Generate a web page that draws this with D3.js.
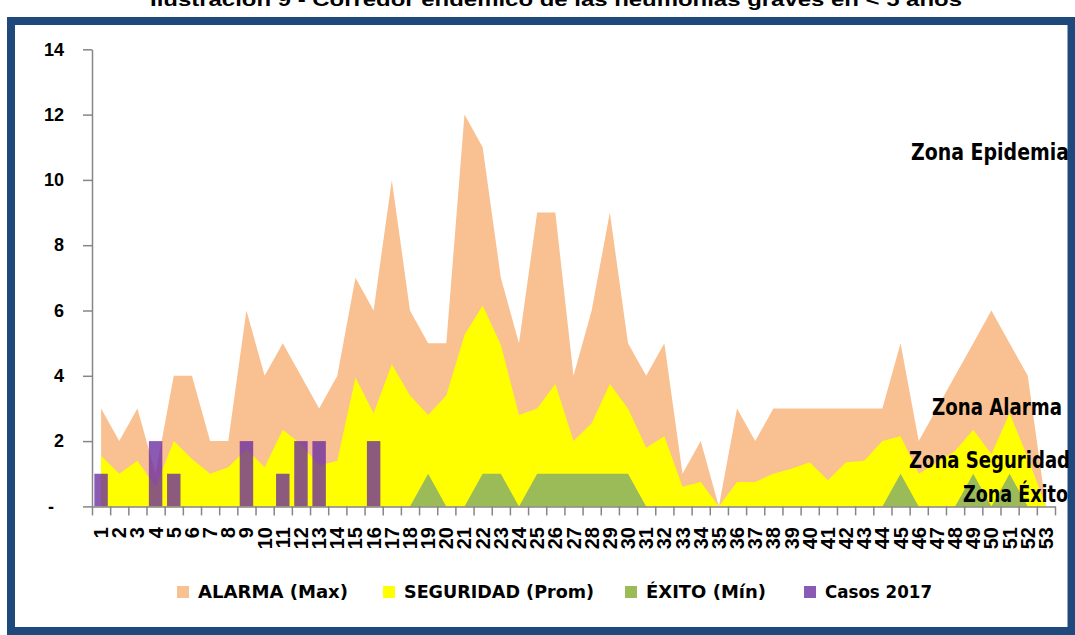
<!DOCTYPE html>
<html><head><meta charset="utf-8">
<script src="https://cdn.jsdelivr.net/npm/d3@7"></script>
<style>body{margin:0;background:#fff}svg{display:block}</style>
</head><body><svg id="c" width="1075" height="635"></svg>
<script>
const weeks = ["1","2","3","4","5","6","7","8","9","10","11","12","13","14","15","16","17","18","19","20",
  "21","22","23","24","25","26","27","28","29","30","31","32","33","34","35","36","37","38","39","40",
  "41","42","43","44","45","46","47","48","49","50","51","52","53"];
const alarma = [3,2,3,1,4,4,2,2,6,4,5,4,3,4,7,6,10,6,5,5,12,11,7,5,9,9,4,6,9,5,4,5,1,2,0,3,2,3,3,3,3,3,3,3,5,2,3,4,5,6,5,4,0];
const seguridad = [1.55,1.0,1.4,0.6,2.0,1.45,1.0,1.2,1.75,1.2,2.35,1.9,1.25,1.4,3.95,2.85,4.35,3.4,2.8,3.4,
  5.25,6.15,4.95,2.8,3.0,3.75,2.0,2.55,3.75,3.0,1.8,2.15,0.6,0.75,0,0.75,0.75,1.0,1.15,1.35,
  0.8,1.35,1.4,2.0,2.15,1.0,1.35,1.7,2.35,1.6,2.85,1.5,0];
const exito = [0,0,0,0,0,0,0,0,0,0,0,0,0,0,0,0,0,0,1,0,0,1,1,0,1,1,1,1,1,1,0,0,0,0,0,0,0,0,0,0,0,0,0,0,1,0,0,0,1,0,1,0,0];
const casos = [1,0,0,2,1,0,0,0,2,0,1,2,2,0,0,2,0,0,0,0,0,0,0,0,0,0,0,0,0,0,0,0,0,0,0,0,0,0,0,0,0,0,0,0,0,0,0,0,0,0,0,0,0];
const yTicks = [0,2,4,6,8,10,12,14];
const yTickLabels = ["-","2","4","6","8","10","12","14"];
const seriesNames = ["ALARMA (Max)","SEGURIDAD (Prom)","ÉXITO (Mín)","Casos 2017"];
const zoneLabels = ["Zona Epidemia","Zona Alarma","Zona Seguridad","Zona Éxito"];
const titleText = "Ilustración 9 - Corredor endémico de las neumonías graves en < 5 años";

const colors = {alarma:"#F9C091", seguridad:"#FFFF00", exito:"#9BBB59", casos:"#6A2CA0"};
const svg = d3.select("#c");
const narrow = "'Liberation Sans Narrow','Arial Narrow','DejaVu Sans Condensed',sans-serif";

// title
svg.append("text").attr("x",556).attr("y",6).attr("text-anchor","middle")
  .attr("font-family","'Liberation Sans',Arial,sans-serif").attr("font-weight","bold").attr("font-size",19)
  .attr("textLength",812).attr("lengthAdjust","spacingAndGlyphs").text(titleText);

// frame
svg.append("rect").attr("x",11).attr("y",21).attr("width",1060.5).attr("height",610)
  .attr("fill","none").attr("stroke","#1F497D").attr("stroke-width",8);

const x = d3.scaleBand().domain(weeks).range([92,1055]).padding(0);
const bw = x.bandwidth();
const cx = d => x(d) + bw/2;
const y = d3.scaleLinear().domain([0,14]).range([506.4,49.3]);

const areaGen = d3.area().x((d,i)=>cx(weeks[i])).y0(y(0)).y1(d=>y(d));
svg.append("path").attr("d",areaGen(alarma)).attr("fill",colors.alarma);
svg.append("path").attr("d",areaGen(seguridad)).attr("fill",colors.seguridad);
svg.append("path").attr("d",areaGen(exito)).attr("fill",colors.exito);

svg.append("g").selectAll("rect").data(casos).join("rect")
  .attr("x",(d,i)=>cx(weeks[i]) - bw*0.37).attr("width",bw*0.74)
  .attr("y",d=>y(d)).attr("height",d=>y(0)-y(d))
  .attr("fill",colors.casos).attr("fill-opacity",0.78);

// y axis
const yAxis = d3.axisLeft(y).tickValues(yTicks).tickSize(9).tickSizeOuter(0).tickPadding(19)
  .tickFormat((d,i)=>yTickLabels[i]);
const gy = svg.append("g").attr("transform","translate(92,0)").call(yAxis);
gy.selectAll("path,line").attr("stroke","#868686").attr("stroke-width",1.5);
gy.selectAll("text").attr("font-family","'Liberation Sans',Arial,sans-serif").attr("font-weight","bold")
  .attr("font-size",18).attr("fill","#000");
gy.selectAll("text").filter(d=>d===0).attr("x",-38);

// x axis (ticks at category boundaries)
const xl = d3.scaleLinear().domain([0,weeks.length]).range([92,1055]);
const gx = svg.append("g").attr("transform",`translate(0,${y(0)})`)
  .call(d3.axisBottom(xl).tickValues(d3.range(0,weeks.length+1)).tickSize(9).tickSizeOuter(0).tickFormat(""));
gx.selectAll("path,line").attr("stroke","#868686").attr("stroke-width",1.5);

svg.append("g").selectAll("text").data(weeks).join("text")
  .attr("transform",d=>`translate(${cx(d)},527) rotate(-90)`)
  .attr("text-anchor","end").attr("dy","0.35em")
  .attr("font-family","'Liberation Sans',Arial,sans-serif").attr("font-weight","bold").attr("font-size",20)
  .text(d=>d);

// zone labels
const zonePos = [[911,160,158],[932,415,130],[909,468,161],[963,502,105]];
svg.append("g").selectAll("text").data(zoneLabels).join("text")
  .attr("x",(d,i)=>zonePos[i][0]).attr("y",(d,i)=>zonePos[i][1])
  .attr("textLength",(d,i)=>zonePos[i][2]).attr("lengthAdjust","spacingAndGlyphs")
  .attr("font-family",narrow).attr("font-weight","bold").attr("font-size",23).text(d=>d);

// legend
const legColors = [colors.alarma, colors.seguridad, colors.exito, "#8B5AB5"];
const legX = [177,383,625,804];
const legW = [150,190,120,107];
const lg = svg.append("g");
seriesNames.forEach((n,i)=>{
  lg.append("rect").attr("x",legX[i]).attr("y",586).attr("width",12).attr("height",12).attr("fill",legColors[i]);
  lg.append("text").attr("x",legX[i]+21).attr("y",598).attr("font-family",narrow).attr("font-weight","bold")
    .attr("font-size",18).attr("textLength",legW[i]).attr("lengthAdjust","spacingAndGlyphs").text(n);
});
</script></body></html>
